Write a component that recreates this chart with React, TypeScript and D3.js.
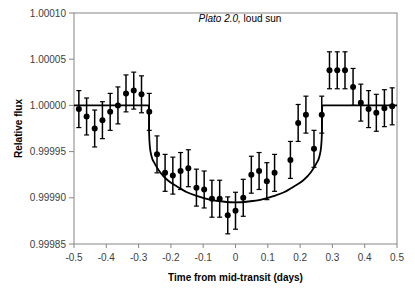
import React from "react";
import * as d3 from "d3";

// observed light curve (days from mid-transit, relative flux)
const obsTime = [
  -0.485, -0.461, -0.436, -0.412, -0.388, -0.364, -0.339, -0.315, -0.291, -0.267,
  -0.243, -0.218, -0.194, -0.17, -0.146, -0.121, -0.097, -0.073, -0.049, -0.024,
  0.0, 0.024, 0.049, 0.073, 0.097, 0.121, 0.17, 0.194, 0.218, 0.243,
  0.267, 0.291, 0.315, 0.339, 0.364, 0.388, 0.412, 0.436, 0.461, 0.485,
];
const obsFlux = [
  0.999996, 0.999988, 0.999975, 0.999984, 0.999993, 1.0, 1.000013, 1.000016, 1.000012, 0.999993,
  0.999947, 0.999927, 0.999924, 0.999929, 0.999932, 0.999911, 0.999909, 0.999899, 0.999899, 0.999881,
  0.999886, 0.9999, 0.999925, 0.999929, 0.999918, 0.999927, 0.999941, 0.999981, 0.99999, 0.999953,
  0.99999, 1.000038, 1.000038, 1.000038, 1.00002, 1.000003, 0.999996, 0.999992, 0.999997, 0.999999,
];
const obsErr = 0.00002;

// model transit curve
const modelTime = [
  -0.5, -0.2685, -0.2675, -0.265, -0.26, -0.25, -0.234, -0.21, -0.18, -0.15, -0.12, -0.08, -0.04,
  0, 0.04, 0.08, 0.12, 0.15, 0.18, 0.21, 0.234, 0.25, 0.26, 0.265, 0.2675, 0.2685, 0.5,
];
const modelFlux = [
  1.0, 1.0, 0.99997, 0.999955, 0.999945, 0.999937, 0.999928, 0.999919, 0.999912, 0.999906, 0.999902, 0.999898, 0.999896,
  0.999895, 0.999896, 0.999898, 0.999902, 0.999906, 0.999912, 0.999919, 0.999928, 0.999937, 0.999945, 0.999955, 0.99997, 1.0, 1.0,
];

const xTicks = [-0.5, -0.4, -0.3, -0.2, -0.1, 0, 0.1, 0.2, 0.3, 0.4, 0.5];
const xTickLabels = ["-0.5", "-0.4", "-0.3", "-0.2", "-0.1", "0", "0.1", "0.2", "0.3", "0.4", "0.5"];
const yTicks = [0.99985, 0.9999, 0.99995, 1.0, 1.00005, 1.0001];
const yTickLabels = ["0.99985", "0.99990", "0.99995", "1.00000", "1.00005", "1.00010"];

const W = 415;
const H = 293;
const left = 74, right = 397, top = 13, bottom = 244;
const font = "'Liberation Sans', Arial, sans-serif";
const axisGray = "#868686";

export default function App() {
  const x = d3.scaleLinear().domain([-0.5, 0.5]).range([left, right]);
  const y = d3.scaleLinear().domain([0.99985, 1.0001]).range([bottom, top]);

  const model = modelTime.map((t, i) => [t, modelFlux[i]] as [number, number]);
  const line = d3
    .line<[number, number]>()
    .x((d) => x(d[0]))
    .y((d) => y(d[1]))
    .curve(d3.curveMonotoneX);

  return (
    <svg width={W} height={H} style={{ position: "absolute", left: 0, top: 0 }}>
      <rect x={0} y={0} width={W} height={H} fill="#fff" />
      {/* plot frame */}
      <rect x={left} y={top} width={right - left} height={bottom - top} fill="none" stroke={axisGray} strokeWidth={1} />

      {/* y axis */}
      {yTicks.map((v, i) => (
        <g key={"y" + i}>
          <line x1={left - 5} x2={left} y1={y(v)} y2={y(v)} stroke={axisGray} />
          <text x={left - 8} y={y(v)} dy="0.35em" textAnchor="end" fontFamily={font} fontSize={10} fill="#404040">
            {yTickLabels[i]}
          </text>
        </g>
      ))}
      {/* x axis */}
      {xTicks.map((v, i) => (
        <g key={"x" + i}>
          <line x1={x(v)} x2={x(v)} y1={bottom} y2={bottom + 4} stroke={axisGray} />
          <text x={x(v)} y={bottom + 17} textAnchor="middle" fontFamily={font} fontSize={10} fill="#404040">
            {xTickLabels[i]}
          </text>
        </g>
      ))}

      {/* model */}
      <path d={line(model) || ""} fill="none" stroke="#000" strokeWidth={1.8} />

      {/* data with error bars */}
      {obsTime.map((t, i) => {
        const cx = x(t);
        const y1 = y(obsFlux[i] + obsErr);
        const y2 = y(obsFlux[i] - obsErr);
        return (
          <g key={"p" + i}>
            <line x1={cx} x2={cx} y1={y1} y2={y2} stroke="#000" strokeWidth={1.5} />
            <line x1={cx - 2.5} x2={cx + 2.5} y1={y1} y2={y1} stroke="#000" strokeWidth={1.2} />
            <line x1={cx - 2.5} x2={cx + 2.5} y1={y2} y2={y2} stroke="#000" strokeWidth={1.2} />
            <circle cx={cx} cy={y(obsFlux[i])} r={3} fill="#000" />
          </g>
        );
      })}

      {/* annotation */}
      <text x={240} y={22} textAnchor="middle" fontFamily={font} fontSize={10} fill="#000">
        <tspan fontStyle="italic">Plato 2.0,</tspan>
        <tspan> loud sun</tspan>
      </text>

      {/* axis titles */}
      <text x={(left + right) / 2} y={281} textAnchor="middle" fontFamily={font} fontSize={10} fontWeight="bold" fill="#000">
        Time from mid-transit (days)
      </text>
      <text
        transform={`translate(22,${(top + bottom) / 2}) rotate(-90)`}
        textAnchor="middle"
        fontFamily={font}
        fontSize={10}
        fontWeight="bold"
        fill="#000"
      >
        Relative flux
      </text>
    </svg>
  );
}
